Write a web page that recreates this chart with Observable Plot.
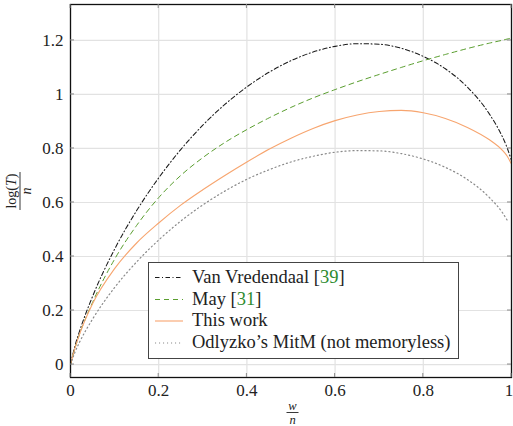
<!DOCTYPE html>
<html>
<head>
<meta charset="utf-8">
<script src="https://cdn.jsdelivr.net/npm/d3@7"></script>
<script src="https://cdn.jsdelivr.net/npm/@observablehq/plot@0.6"></script>
<style>
  html, body { margin: 0; padding: 0; background: white; }
  #chart { width: 513px; height: 426px; }
</style>
</head>
<body>
<div id="chart"></div>
<script>
// ---- data ----
const w = [0, 0.01, 0.02, 0.05, 0.1, 0.15, 0.2, 0.25, 0.3, 0.35, 0.4, 0.45, 0.5, 0.55, 0.6, 0.65, 0.7, 0.75, 0.8, 0.85, 0.9, 0.95, 0.98, 0.99, 1.0];
const vanVredendaal = [0, 0.068, 0.121, 0.252, 0.427, 0.570, 0.691, 0.796, 0.886, 0.963, 1.028, 1.082, 1.125, 1.157, 1.178, 1.188, 1.186, 1.171, 1.141, 1.095, 1.027, 0.927, 0.841, 0.803, 0.755];
const may = [0, 0.06, 0.11, 0.23, 0.39, 0.515, 0.618, 0.70, 0.766, 0.822, 0.87, 0.913, 0.952, 0.987, 1.018, 1.047, 1.074, 1.10, 1.125, 1.148, 1.17, 1.19, 1.201, 1.205, 1.209];
const thisWork = [0, 0.06, 0.11, 0.225, 0.355, 0.45, 0.524, 0.59, 0.647, 0.70, 0.75, 0.797, 0.838, 0.874, 0.903, 0.924, 0.937, 0.941, 0.932, 0.911, 0.878, 0.832, 0.792, 0.772, 0.742];
const odlyzko = [0, 0.045, 0.081, 0.168, 0.285, 0.380, 0.461, 0.531, 0.591, 0.642, 0.686, 0.721, 0.75, 0.771, 0.786, 0.792, 0.791, 0.781, 0.761, 0.730, 0.685, 0.618, 0.561, 0.535, null];
const xTicks = [0, 0.2, 0.4, 0.6, 0.8, 1];
const yTicks = [0, 0.2, 0.4, 0.6, 0.8, 1, 1.2];
const seriesNames = ["Van Vredendaal", "May", "This work", "Odlyzko\u2019s MitM (not memoryless)"];
const seriesRefs = ["39", "31", "", ""];

// ---- styles ----
const styles = [
  {stroke: "#1a1a1a", dash: "4.5,2.5,1,2.5", width: 1.05},
  {stroke: "#5a9e2f", dash: "5,4", width: 1},
  {stroke: "#f7a56f", dash: null, width: 1.1},
  {stroke: "#8a8a8a", dash: "1.1,2.9", width: 1.2}
];
const allSeries = [vanVredendaal, may, thisWork, odlyzko];
const tables = allSeries.map(vals => w.map((x, i) => ({x, y: vals[i]})).filter(d => d.y != null));

const fmt = d => d3.format("~g")(d);

const plot = Plot.plot({
  width: 513,
  height: 426,
  marginLeft: 70,
  marginRight: 2,
  marginTop: 4,
  marginBottom: 49,
  style: {fontFamily: "'Liberation Serif', serif", fontSize: "17px", color: "#222", background: "white", overflow: "visible"},
  x: {domain: [0, 1]},
  y: {domain: [-0.048, 1.333]},
  marks: [
    Plot.gridX(xTicks, {stroke: "#e2e2e2", strokeOpacity: 1, strokeWidth: 1.2}),
    Plot.gridY(yTicks, {stroke: "#e2e2e2", strokeOpacity: 1, strokeWidth: 1.2}),
    Plot.axisX(xTicks, {tickSize: 0, tickPadding: 6, tickFormat: fmt, label: null}),
    Plot.axisY(yTicks, {tickSize: 0, tickPadding: 7, tickFormat: fmt, label: null}),
    ...tables.map((t, i) => Plot.line(t, {x: "x", y: "y", curve: "monotone-x", stroke: styles[i].stroke, strokeWidth: styles[i].width, strokeDasharray: styles[i].dash})),
    Plot.frame({stroke: "#111", strokeWidth: 1.3})
  ]
});

document.getElementById("chart").appendChild(plot);

const svg = d3.select(plot);
const sx = plot.scale("x"), sy = plot.scale("y");
const [x0, x1] = sx.range, [yb, yt] = sy.range;

// keep the last x tick label ("1") inside the picture
svg.selectAll("g[aria-label='x-axis tick label'] text")
  .filter(function() { return this.textContent === "1"; })
  .attr("dx", -2.5);

// inward ticks on all four sides
const tg = svg.append("g").attr("stroke", "#8a8a8a").attr("stroke-width", 1);
xTicks.forEach(t => {
  const px = sx.apply(t);
  tg.append("line").attr("x1", px).attr("x2", px).attr("y1", yb).attr("y2", yb - 4);
  tg.append("line").attr("x1", px).attr("x2", px).attr("y1", yt).attr("y2", yt + 4);
});
yTicks.forEach(t => {
  const py = sy.apply(t);
  tg.append("line").attr("y1", py).attr("y2", py).attr("x1", x0).attr("x2", x0 + 4);
  tg.append("line").attr("y1", py).attr("y2", py).attr("x1", x1).attr("x2", x1 - 4);
});

// legend
const lg = svg.append("g").attr("font-family", "'Liberation Serif', serif").attr("font-size", 18.5)
  .attr("fill", "#222").attr("text-anchor", "start").style("text-anchor", "start");
lg.append("rect").attr("x", 148.5).attr("y", 262.5).attr("width", 310).attr("height", 96)
  .attr("fill", "white").attr("stroke", "#444").attr("stroke-width", 1);
const rowY = [277.5, 299.5, 321, 343];
seriesNames.forEach((name, i) => {
  const s = styles[i];
  lg.append("line").attr("x1", 155).attr("x2", 183).attr("y1", rowY[i]).attr("y2", rowY[i])
    .attr("stroke", s.stroke).attr("stroke-width", s.width).attr("stroke-dasharray", s.dash);
  const t = lg.append("text").attr("x", 192).attr("y", rowY[i] + 5).style("text-anchor", "start");
  t.append("tspan").text(name);
  if (seriesRefs[i]) {
    t.append("tspan").text(" [");
    t.append("tspan").attr("fill", "#2e8b2e").text(seriesRefs[i]);
    t.append("tspan").text("]");
  }
});

// y label: log(T) / n (rotated fraction)
const yl = svg.append("g").attr("transform", "translate(20,191) rotate(-90)")
  .attr("font-family", "'Liberation Serif', serif").attr("font-size", 14).attr("fill", "#222");
const num = yl.append("text").attr("x", 0).attr("y", -4.5).attr("text-anchor", "middle");
num.append("tspan").text("log(");
num.append("tspan").attr("font-style", "italic").text("T");
num.append("tspan").text(")");
yl.append("line").attr("x1", -19).attr("x2", 19).attr("y1", 0).attr("y2", 0).attr("stroke", "#222").attr("stroke-width", 0.9);
yl.append("text").attr("x", 0).attr("y", 11).attr("text-anchor", "middle").attr("font-style", "italic").text("n");

// x label: w / n
const xc = (x0 + x1) / 2 + 2;
const xl = svg.append("g").attr("font-family", "'Liberation Serif', serif").attr("font-size", 12.5).attr("fill", "#222");
xl.append("text").attr("x", xc).attr("y", 410).attr("text-anchor", "middle").attr("font-style", "italic").text("w");
xl.append("line").attr("x1", xc - 6).attr("x2", xc + 6).attr("y1", 412.5).attr("y2", 412.5).attr("stroke", "#222").attr("stroke-width", 0.9);
xl.append("text").attr("x", xc).attr("y", 423.5).attr("text-anchor", "middle").attr("font-style", "italic").text("n");
</script>
</body>
</html>
